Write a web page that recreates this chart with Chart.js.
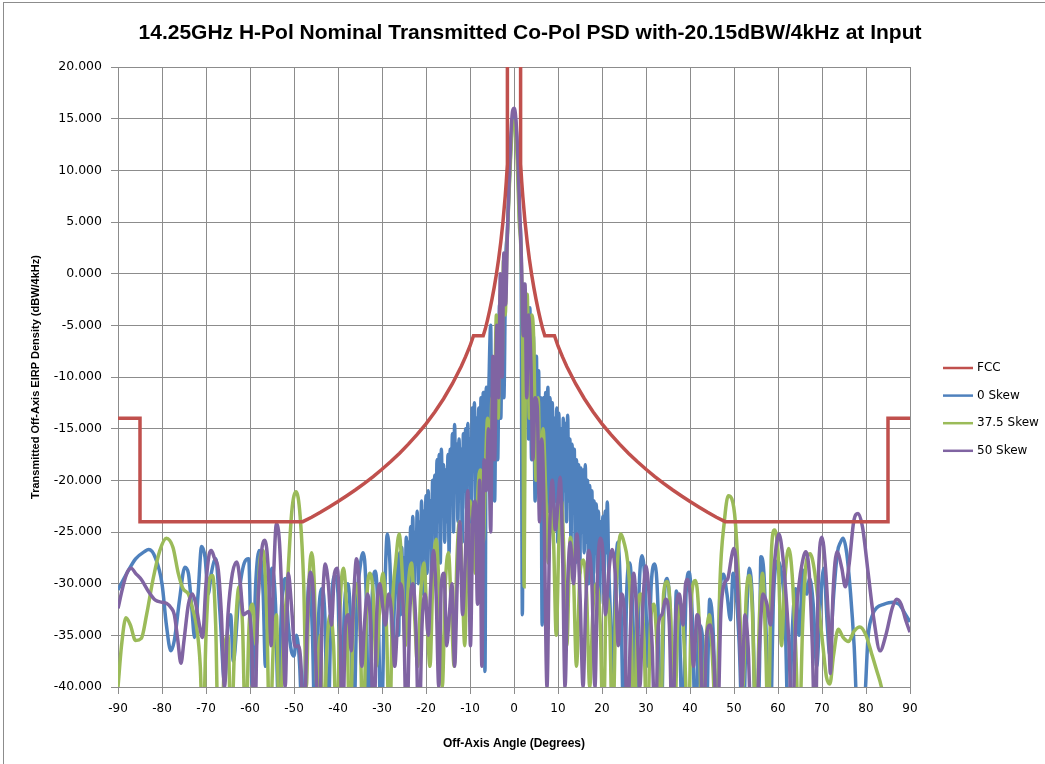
<!DOCTYPE html>
<html><head><meta charset="utf-8">
<script src="https://cdn.jsdelivr.net/npm/chart.js@4.4.1/dist/chart.umd.min.js"></script>
<style>html,body{margin:0;padding:0;background:#fff;}#wrap{width:1045px;height:764px;position:relative;}</style>
</head><body><div id="wrap"><canvas id="c" width="1045" height="764"></canvas></div>
<script>
const chartTitle = '14.25GHz H-Pol Nominal Transmitted Co-Pol PSD with-20.15dBW/4kHz at Input';
const xAxisTitle = 'Off-Axis Angle (Degrees)';
const yAxisTitle = 'Transmitted Off-Axis EIRP Density (dBW/4kHz)';
const seriesNames = ['FCC', '0 Skew', '37.5 Skew', '50 Skew'];
const xTickValues = [-90,-80,-70,-60,-50,-40,-30,-20,-10,0,10,20,30,40,50,60,70,80,90];
const yTickValues = [-40,-35,-30,-25,-20,-15,-10,-5,0,5,10,15,20];

const fccMask = [[-90,-14],[-85,-14],[-85,-24],[-48,-24],[-46,-23.57],[-44,-23.09],[-42,-22.58],[-40,-22.05],[-38,-21.49],[-36,-20.91],[-34,-20.29],[-32,-19.63],[-30,-18.93],[-28,-18.18],[-26,-17.37],[-24,-16.5],[-22,-15.56],[-20,-14.53],[-18,-13.38],[-16,-12.1],[-14,-10.65],[-12,-8.98],[-11,-8.03],[-10,-7],[-9.2,-6],[-7,-6],[-6.5,-5.32],[-6,-4.45],[-5.5,-3.51],[-5,-2.47],[-4.5,-1.33],[-4,-0.05],[-3.5,1.4],[-3,3.07],[-2.5,5.05],[-2,7.47],[-1.75,8.92],[-1.5,10.6],[-1.5,45],
[1.5,45],[1.5,10.6],[1.75,8.92],[2,7.47],[2.5,5.05],[3,3.07],[3.5,1.4],[4,-0.05],[4.5,-1.33],[5,-2.47],[5.5,-3.51],[6,-4.45],[6.5,-5.32],[7,-6],[9.2,-6],[10,-7],[11,-8.03],[12,-8.98],[14,-10.65],[16,-12.1],[18,-13.38],[20,-14.53],[22,-15.56],[24,-16.5],[26,-17.37],[28,-18.18],[30,-18.93],[32,-19.63],[34,-20.29],[36,-20.91],[38,-21.49],[40,-22.05],[42,-22.58],[44,-23.09],[46,-23.57],[48,-24],[85,-24],[85,-14],[90,-14]];

const skew0 = [[-90,-30.6],[-88,-29],[-86,-27.6],[-84,-26.9],[-83,-26.7],[-81.5,-27.5],[-80,-30],[-79,-34],[-78,-36.5],[-77.2,-35.5],[-76,-31.5],[-74.8,-28.4],[-74,-29],[-73.2,-32.5],[-72.6,-35.2],[-71.8,-31],[-71,-26.4],[-70.2,-27.5],[-69.5,-31],[-68.8,-29],[-67.8,-27.6],[-66.8,-33],[-65.8,-39.5],[-65,-34],[-64.4,-33],[-63.8,-37.5],[-62.5,-31],[-61.3,-28],[-60.3,-27.6],[-59.5,-39.8],[-58.7,-30],[-57.9,-26.8],[-57,-31],[-56.5,-38],[-55.8,-33],[-55,-28.5],[-54.2,-32],[-53.6,-41],[-52.8,-32],[-52,-29.5],[-51.3,-34],[-50.6,-36.5],[-50,-37],[-49.4,-35],[-48.7,-38],[-48,-45],[-47.3,-36],[-46.5,-29.5],[-45.8,-35],[-45.2,-45],[-44.5,-34],[-43.7,-30.5],[-43,-33],[-42.3,-45],[-41.6,-33],[-40.8,-29.2],[-40,-31],[-39.3,-45],[-38.6,-33],[-37.8,-30],[-37.1,-34],[-36.5,-45],[-35.7,-32],[-35,-28.5],[-34.3,-27],[-33.6,-31],[-33,-45],[-32.2,-31],[-31.5,-28.8],[-30.8,-34],[-30.2,-45],[-29.5,-33],[-28.8,-25.2],[-28.2,-28],[-27.6,-36],[-27,-30],[-26.4,-27.5],[-26.2,-35],
[-26.0,-27],[-25.75,-33],[-25.5,-26.5],[-25.25,-31],[-25.0,-27.5],[-24.75,-34],[-24.5,-25.5],[-24.25,-30],[-24.0,-26],[-23.75,-32],[-23.5,-24.5],[-23.25,-29],[-23.0,-23.5],[-22.75,-31],[-22.5,-25],[-22.25,-28],[-22.0,-23],[-21.75,-30],[-21.5,-24],[-21.25,-27],[-21.0,-22],[-20.75,-31],[-20.5,-23],[-20.25,-27.5],[-20.0,-21.5],[-19.75,-29],[-19.5,-21],[-19.25,-26],[-19.0,-22],[-18.75,-30],[-18.5,-20],[-18.25,-25],[-18.0,-19.5],[-17.75,-27],[-17.5,-18],[-17.25,-24],[-17.0,-17.5],[-16.75,-28],[-16.5,-17],[-16.25,-23],[-16.0,-18.5],[-15.75,-26],[-15.5,-19],[-15.25,-24],[-15.0,-17.5],[-14.75,-27],[-14.5,-17],[-14.25,-22],[-14.0,-15.5],[-13.75,-25],[-13.5,-14.6],[-13.25,-21],[-13.0,-16.5],[-12.75,-24],[-12.5,-16],[-12.25,-20],[-12.0,-17],[-11.75,-26],[-11.5,-15.5],[-11.25,-21],[-11.0,-15],[-10.75,-23],[-10.5,-14.5],[-10.25,-20],[-10.0,-16],[-9.75,-24],[-9.5,-13],[-9.25,-19],[-9.0,-12.5],[-8.75,-22],[-8.5,-14],[-8.25,-18],[-8.0,-13],[-7.75,-23],[-7.5,-12],[-7.25,-20],[-7.0,-11.5],[-6.8,-25],[-6.6,-38.5],[-6.3,-11],[-6.0,-17],[-5.7,-10.8],
[-5.3,-5],[-5.0,-20],[-4.7,-9],[-4.4,-22],[-4.0,-6],[-3.7,-18],[-3.3,-3],[-3.0,-14],[-2.6,0],[-2.3,-12],[-1.9,1],[-1.5,4],[-1.1,8.5],[-0.7,12.5],[-0.3,15],[0.1,15.5],[0.5,14],[0.9,10.5],[1.3,5],[1.6,2.3],[1.9,-33],[2.2,-1],[2.5,-14],[2.9,-2.5],[3.3,-16],[3.6,-3.3],[4.0,-18],[4.4,-6],[4.8,-22],
[5.1,-8],[5.35,-20],[5.6,-9.4],[5.85,-22],[6.1,-12],[6.4,-34],[6.7,-12],[6.95,-24],[7.2,-11.5],[7.45,-21],[7.7,-11],[7.95,-23],[8.2,-12],[8.45,-20],[8.7,-12.5],[8.95,-24],[9.2,-14],[9.45,-22],[9.7,-13],[9.95,-26],[10.2,-13.5],[10.45,-22],[10.7,-15],[10.95,-25],[11.2,-14],[11.45,-21],[11.7,-14.5],[11.95,-24],[12.2,-13.7],[12.45,-22],[12.7,-16],[12.95,-26],[13.2,-16.5],[13.45,-23],[13.7,-17],[13.95,-28],[14.2,-18],[14.45,-24],[14.7,-18.5],[14.95,-29],[15.2,-18.8],[15.45,-25],[15.7,-19],[15.95,-27],[16.2,-18.5],[16.45,-26],[16.7,-20],[16.95,-30],[17.2,-20.5],[17.45,-26],[17.7,-21],[17.95,-31],[18.2,-22],[18.45,-27],[18.7,-22.3],[18.95,-29],[19.2,-23],[19.45,-32],[19.7,-24],[19.95,-28],[20.2,-23.5],[20.45,-31],[20.7,-23],[20.95,-27],[21.2,-22.1],[21.5,-28],[21.9,-33],[22.4,-40],
[23,-30],[23.6,-26],[24.3,-32],[25,-45],[25.6,-31],[26.3,-28],[27,-33],[27.7,-45],[28.4,-31],[29.1,-27.3],[29.8,-30],[30.5,-38],[31.2,-30],[32,-28.1],[32.7,-32],[33.4,-45],[34.1,-32],[34.8,-29.5],[35.5,-33],[36.2,-45],[36.9,-30.7],[37.6,-34],[38.3,-45],[39.1,-31],[39.8,-28.9],[40.5,-33],[41.3,-45],[42,-34],[42.8,-35],[43.6,-45],[44.5,-31.5],[45.3,-35],[46,-45],[46.8,-31],[47.6,-29.1],[48.4,-31],[49.2,-33.5],[49.8,-29],[50.5,-31],[51.2,-36],[52,-45],[52.8,-34],[53.5,-28.5],[54.2,-32],[55,-45],[55.8,-38],[56.1,-27.4],[56.8,-29],[57.4,-36],[58.2,-45],[59,-31],[60,-27.8],[60.8,-29],[61.6,-33],[62.4,-45],[63.2,-35],[64,-30.5],[64.8,-35],[65.7,-28.7],[66.5,-31],[67.2,-29.5],[68,-32],[68.8,-38],[69.6,-32],[70.4,-28.5],[71.2,-34],[71.8,-37],[72.5,-32],[73.5,-27],[74.2,-26],[74.8,-25.6],[75.6,-27],[76.5,-31],[77.3,-36],[78,-42],[79.5,-42],[80.5,-35],[81.5,-33],[82.5,-32.3],[84,-32],[86,-31.8],[87.5,-32],[89,-33],[90,-33.7]];

const skew375 = [[-90,-40],[-89.2,-36],[-88.2,-33.3],[-87.2,-34],[-86,-35.5],[-84.7,-35.3],[-83.5,-33],[-82,-29.5],[-80.5,-26.8],[-79,-25.6],[-77.5,-26.5],[-76.3,-29],[-75.2,-30.5],[-74,-31],[-73,-32.5],[-72.2,-34],[-71.3,-38],[-70.7,-45],[-70,-35],[-69.2,-29.5],[-68.5,-29.2],[-67.8,-34],[-67.2,-45],[-66.5,-45],[-65.7,-36],[-65,-35],[-64.3,-45],[-63.5,-36],[-62.5,-30.3],[-61.7,-34],[-61,-45],[-60.2,-34],[-59.4,-32],[-58.6,-36],[-57.8,-28],[-57,-26.8],[-56.2,-33],[-55.5,-45],[-54.7,-36],[-54,-33],[-53.3,-45],[-52.5,-36],[-51.5,-30],[-50.5,-23],[-49.5,-21.1],[-48.6,-23.5],[-47.8,-30],[-47.2,-40],[-46.6,-30],[-46,-27],[-45.4,-30],[-44.8,-40],[-44,-35],[-43.3,-45],[-42.5,-36],[-41.8,-33],[-41,-36],[-40.3,-45],[-39.5,-32],[-38.8,-28.5],[-38,-33],[-37.3,-45],[-36.5,-33],[-35.8,-30],[-35,-34],[-34.3,-45],[-33.5,-32],[-32.8,-29],[-32,-31],[-31.3,-38],[-30.5,-32],[-29.8,-29],[-29,-34],[-28.3,-45],[-27.6,-32],[-26.9,-28],[-26.1,-25.2],[-25.4,-29],[-24.7,-36],[-24,-30],[-23.3,-28],[-22.6,-33],[-21.9,-38],[-21.2,-31],[-20.5,-28],[-19.8,-33],[-19.1,-38],[-18.4,-29],[-17.7,-25.7],[-17,-31],[-16.3,-40],[-15.6,-30],[-14.9,-27],[-14.2,-33],[-13.6,-38],[-13,-28],[-12.4,-24],[-11.8,-29],[-11.2,-36],[-10.6,-26],[-10,-22],[-9.4,-24],[-8.8,-29],[-8.2,-21],[-7.6,-19],[-7,-26],[-6.5,-19],[-6,-14],[-5.5,-20],[-5,-12],[-4.6,-17],[-4,-4],[-3.6,-14],[-3.1,-2],[-2.7,-9],[-2.4,1.3],[-2,-4],[-1.6,2.5],[-1.2,7],[-0.8,11],[-0.4,14],[0,14.8],[0.4,14],[0.8,10],[1.2,5],[1.6,2],[2,-8],[2.3,-30.3],[2.6,-8],[3,-2],[3.5,-14],[4,-4],[4.5,-6.7],[5,-20],[5.5,-12],[6,-22],[6.6,-15],[7.2,-21],[7.8,-28],[8.4,-22],[9,-26],[9.6,-35],[10.2,-26],[10.8,-22],[11.4,-28],[12,-36],[12.8,-25.5],[13.5,-29],[14.2,-38],[15,-29],[15.8,-27.7],[16.5,-31],[17.2,-40],[18,-32],[18.8,-30],[19.6,-34],[20.3,-45],[21,-31.3],[21.7,-33],[22.4,-45],[23.2,-31],[24.3,-25.2],[25,-26],[25.8,-27.8],[26.5,-32],[27.3,-45],[28,-33],[28.8,-31],[29.5,-35],[30.3,-45],[31,-34],[31.8,-32],[32.5,-36],[33.3,-45],[34,-31],[34.8,-29.8],[35.6,-33],[36.4,-45],[37.2,-34],[38,-32],[38.8,-37],[39.6,-45],[40.4,-31],[41.2,-29.7],[42,-33],[42.8,-45],[43.6,-36],[44.4,-33],[45.2,-38],[46,-45],[46.8,-30],[47.8,-24],[48.7,-21.5],[49.5,-21.8],[50.3,-24],[51.2,-31],[52,-40],[52.8,-31],[53.5,-29.2],[54.2,-33],[55,-45],[55.8,-33],[56.5,-29],[57.2,-36],[57.8,-45],[58.5,-27],[59.2,-24.8],[60,-27],[60.8,-36],[61.5,-30],[62.4,-26.6],[63.2,-29],[64,-36],[64.8,-45],[65.6,-34],[66.4,-28],[67.3,-27.1],[68.2,-28.5],[69.2,-32],[70.2,-36],[71,-39],[71.8,-39.7],[72.6,-37],[73.7,-34.4],[74.8,-35.2],[76,-35.6],[77.3,-34.6],[78.6,-34.2],[80,-35],[81.3,-36.8],[82.5,-38.5],[83.5,-40],[84.3,-42]];

const skew50 = [[-90,-32.4],[-89,-30.5],[-88,-29],[-87,-28.5],[-86,-29],[-84.7,-29.6],[-83,-30.8],[-81.5,-31.6],[-80,-31.8],[-79,-31.9],[-78,-32.3],[-77.2,-33],[-76.4,-35.5],[-75.7,-37.7],[-75,-35.5],[-74,-32],[-73.1,-31],[-72.4,-31.8],[-71.5,-34],[-70.8,-35.2],[-70,-30],[-69.3,-27.2],[-68.8,-26.8],[-68.1,-27.5],[-67.2,-28.7],[-66.5,-33],[-65.8,-40],[-65,-33],[-64,-29],[-63,-27.9],[-62.2,-30],[-61.5,-33],[-60.3,-32.7],[-59.6,-36],[-59,-45],[-58.3,-33],[-57.4,-27],[-56.6,-25.8],[-55.8,-29],[-55.2,-36],[-54.7,-30],[-54,-24.2],[-53.3,-26],[-52.6,-33],[-52,-40],[-51.3,-29],[-50.6,-32],[-49.8,-36.1],[-49,-36],[-48.4,-38],[-47.8,-45],[-47,-34],[-46.3,-28.9],[-45.6,-31],[-45,-38],[-44.3,-45],[-43.6,-33],[-42.9,-28.1],[-42.2,-30],[-41.5,-34],[-40.8,-29],[-40.2,-28.5],[-39.6,-33],[-39,-45],[-38.3,-34],[-37.6,-33],[-37,-36.5],[-36.4,-31],[-35.8,-27.6],[-35.2,-30],[-34.6,-38],[-34,-34],[-33.3,-31],[-32.6,-34],[-31.9,-45],[-31.2,-33],[-30.5,-30],[-29.9,-32],[-29.2,-34],[-28.5,-31],[-27.8,-33],[-27.1,-38],[-26.5,-34],[-25.8,-30],[-25.1,-33],[-24.4,-45],[-23.7,-33],[-23,-30],[-22.3,-34],[-21.6,-45],[-20.9,-34],[-20.2,-31],[-19.5,-35],[-18.9,-30],[-18.3,-26.8],[-17.7,-31],[-17.1,-40],[-16.5,-30],[-15.9,-29],[-15.3,-36],[-14.7,-33],[-14.1,-30],[-13.5,-38],[-12.9,-30],[-12.3,-24],[-11.7,-33],[-11.1,-28],[-10.5,-21],[-9.9,-36],[-9.3,-23],[-8.8,-22],[-8.3,-32],[-7.8,-20],[-7.3,-38],[-6.8,-18],[-6.3,-21],[-5.8,-15],[-5.3,-25],[-4.8,-8],[-4.4,-18],[-3.9,-5],[-3.5,-12],[-3.1,0],[-2.7,-10],[-2.3,2],[-1.9,-3],[-1.5,4],[-1.1,9],[-0.7,13.5],[-0.3,15.8],[0.1,16],[0.5,14.5],[0.9,11],[1.3,6],[1.7,1.2],[2.1,-6],[2.5,-1],[2.9,-12],[3.3,-4],[3.8,-8.1],[4.3,-18],[4.8,-12],[5.3,-13],[5.8,-24],[6.3,-16],[6.8,-22],[7.5,-40],[8.1,-25],[8.7,-20],[9.4,-24.8],[10,-22],[10.5,-19.7],[11,-26],[11.6,-40],[12.2,-30],[12.8,-26],[13.5,-30],[14.3,-25.2],[15,-31],[15.7,-40],[16.3,-32],[17,-26.8],[17.7,-30],[18.4,-40],[19,-29],[19.6,-25.6],[20.2,-27],[20.8,-33],[21.5,-29],[22.3,-26.7],[23,-29],[23.7,-36],[24.4,-31],[25.1,-33],[25.8,-45],[26.5,-34],[27.2,-29],[27.9,-33],[28.6,-40],[29.3,-32],[30,-28.3],[30.7,-31],[31.4,-36],[32.1,-45],[32.8,-34],[33.6,-33],[34.5,-31.5],[35.3,-34],[36,-45],[36.8,-33],[37.6,-31],[38.4,-34],[39,-30],[39.4,-29.6],[40,-31],[40.8,-38],[41.6,-33],[42.3,-35],[43,-45],[43.8,-35],[44.6,-34],[45.4,-37],[46.2,-45],[47,-33],[47.8,-30],[48.6,-29.5],[49.4,-27.5],[49.9,-26.6],[50.5,-28],[51.2,-34],[51.8,-40],[52.5,-33],[53.2,-36],[54,-45],[55,-45],[55.8,-36],[56.6,-31],[57.5,-32],[58.3,-34],[59.2,-28],[60.2,-25.2],[61,-27],[61.8,-31],[62.5,-36],[63.2,-45],[64,-34],[64.8,-30],[65.5,-28],[66.3,-26.9],[67.1,-29],[67.8,-36],[68.4,-45],[69.2,-29],[70,-25.5],[70.8,-28.5],[71.5,-34],[71.9,-38.7],[72.5,-31],[73.4,-26.9],[74.5,-28.5],[75.3,-30.3],[76.2,-28],[77.2,-24],[78.2,-23.2],[79.2,-24.5],[80.5,-29],[81.8,-33.5],[83.2,-36.5],[84.5,-35],[86,-32.3],[87,-31.5],[88,-32],[89,-33.5],[90,-34.7]];

const seriesColors = ['#C0504D', '#4F81BD', '#9BBB59', '#8064A2'];
const toXY = arr => arr.map(p => ({x: p[0], y: p[1]}));

const decor = {
  id: 'decor',
  beforeDraw(chart) {
    const c = chart.ctx;
    c.save();
    c.fillStyle = '#ffffff';
    c.fillRect(0, 0, chart.width, chart.height);
    c.strokeStyle = '#8c8c8c';
    c.lineWidth = 1;
    c.strokeRect(3.5, 2.5, chart.width + 20, chart.height + 20);
    c.restore();
  },
  afterDraw(chart) {
    const c = chart.ctx;
    c.save();
    c.fillStyle = '#000';
    c.font = 'bold 21px "Liberation Sans Narrow", "Liberation Sans", sans-serif';
    c.textAlign = 'center';
    c.textBaseline = 'middle';
    c.fillText(chartTitle, 530, 33);
    c.font = '12px "DejaVu Sans", sans-serif';
    c.textAlign = 'left';
    chart.data.datasets.forEach((ds, i) => {
      const y = 368 + i * 27.6;
      c.strokeStyle = ds.borderColor;
      c.lineWidth = 2.5;
      c.beginPath(); c.moveTo(943, y); c.lineTo(973, y); c.stroke();
      c.fillStyle = '#000';
      c.fillText(ds.label, 977, y);
    });
    c.restore();
  }
};

const datasets = [fccMask, skew0, skew375, skew50].map((arr, i) => ({
  label: seriesNames[i],
  data: toXY(arr),
  borderColor: seriesColors[i],
  backgroundColor: seriesColors[i],
  borderWidth: 3.5,
  pointRadius: 0,
  fill: false,
  tension: i === 0 ? 0 : 0.4,
  cubicInterpolationMode: i === 0 ? 'default' : 'monotone',
  order: [0, 3, 2, 1][i]
}));

const gridColor = '#8c8c8c';
new Chart(document.getElementById('c'), {
  type: 'line',
  data: { datasets },
  plugins: [decor],
  options: {
    responsive: false,
    animation: false,
    devicePixelRatio: 1,
    layout: { padding: { left: 0, top: 67, right: 135, bottom: 0 } },
    plugins: { legend: { display: false }, tooltip: { enabled: false }, title: { display: false } },
    scales: {
      x: {
        type: 'linear', min: -90, max: 90,
        afterBuildTicks: s => { s.ticks = xTickValues.map(v => ({ value: v })); },
        afterFit: s => { s.height = 77; },
        grid: { color: gridColor, lineWidth: 1, tickLength: 7, drawTicks: true },
        border: { color: gridColor, width: 1 },
        ticks: { color: '#000', font: { family: '"DejaVu Sans"', size: 12 }, padding: 8, maxRotation: 0, autoSkip: false, callback: v => String(v) },
        title: { display: true, text: xAxisTitle, color: '#000', font: { family: '"Liberation Sans"', size: 12, weight: 'bold' }, padding: { top: 0, bottom: 13 } }
      },
      y: {
        type: 'linear', min: -40, max: 20,
        afterBuildTicks: s => { s.ticks = yTickValues.map(v => ({ value: v })); },
        afterFit: s => { s.width = 118; },
        grid: { color: gridColor, lineWidth: 1, tickLength: 7, drawTicks: true },
        border: { color: gridColor, width: 1 },
        ticks: { color: '#000', font: { family: '"DejaVu Sans"', size: 12.5 }, padding: 9, callback: v => Number(v).toFixed(3) },
        title: { display: true, text: yAxisTitle, color: '#000', font: { family: '"Liberation Sans"', size: 11, weight: 'bold' }, padding: { top: 29, bottom: 0 } }
      }
    }
  }
});
</script></body></html>
